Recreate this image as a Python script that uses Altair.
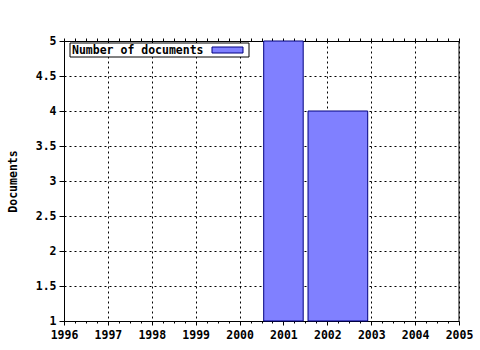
import altair as alt
import pandas as pd

years = [2001, 2002]
docs = [5, 4]
bar_start = [2000.55, 2001.56]
bar_end = [2001.45, 2002.92]
x_ticks = list(range(1996, 2006))
y_ticks = [1, 1.5, 2, 2.5, 3, 3.5, 4, 4.5, 5]
minor_ticks = [1996 + i * 0.25 for i in range(37)]

FONT = "DejaVu Sans Mono"
W, H = 395, 280

bars_df = pd.DataFrame({"year": years, "docs": docs, "x0": bar_start, "x1": bar_end, "base": [1] * len(years)})
minor_df = pd.DataFrame({"t": minor_ticks})

xs = alt.Scale(domain=[1996, 2005], nice=False, zero=False)
ys = alt.Scale(domain=[1, 5], nice=False, zero=False)

bars = alt.Chart(bars_df).mark_rect(fill="#8080ff", stroke="#000080", strokeWidth=1).encode(
    x=alt.X("x0:Q", scale=xs, axis=alt.Axis(
        values=x_ticks, format="d", title=None, grid=True, gridDash=[2, 3], gridColor="black",
        gridOpacity=1, domainColor="black", tickColor="black", tickSize=4,
        labelFont=FONT, labelFontWeight="bold", labelFontSize=11.5, labelColor="black", labelPadding=4,
        labelFlush=False)),
    x2="x1:Q",
    y=alt.Y("base:Q", scale=ys, axis=alt.Axis(
        values=y_ticks, format="~g", title="Documents", grid=True, gridDash=[2, 3], gridColor="black",
        gridOpacity=1, domainColor="black", tickColor="black", tickSize=5,
        labelFont=FONT, labelFontWeight="bold", labelFontSize=11.5, labelColor="black", labelPadding=3,
        titleFont=FONT, titleFontWeight="bold", titleFontSize=11.5, titleColor="black", titlePadding=17)),
    y2="docs:Q",
)

minor_bottom = alt.Chart(minor_df).mark_point(opacity=0).encode(
    x=alt.X("t:Q", scale=xs, axis=alt.Axis(values=minor_ticks, labels=False, grid=False, domain=False,
                                           tickColor="black", tickSize=2, title=None, orient="bottom")),
)
minor_top = alt.Chart(minor_df).mark_point(opacity=0).encode(
    x=alt.X("t:Q", scale=xs, axis=alt.Axis(values=minor_ticks, labels=False, grid=False, domainColor="black",
                                           tickColor="black", tickSize=3, title=None, orient="top")),
)

right_line = alt.Chart(minor_df.head(1)).mark_rule(color="black").encode(
    x=alt.value(W), y=alt.value(0), y2=alt.value(H))

legend_box = alt.Chart(minor_df.head(1)).mark_rect(fill="white", stroke="black", strokeWidth=1).encode(
    x=alt.value(6), x2=alt.value(185), y=alt.value(2), y2=alt.value(16))
legend_swatch = alt.Chart(minor_df.head(1)).mark_rect(fill="#8080ff", stroke="#000080", strokeWidth=1).encode(
    x=alt.value(148), x2=alt.value(179), y=alt.value(6), y2=alt.value(12))
legend_text = alt.Chart(pd.DataFrame({"label": ["Number of documents"]})).mark_text(
    font=FONT, fontWeight="bold", fontSize=11.5, align="left", baseline="middle", color="black").encode(
    x=alt.value(8), y=alt.value(9.5), text="label:N")

chart = alt.layer(bars, minor_bottom, minor_top, right_line, legend_box, legend_swatch, legend_text).resolve_axis(
    x="independent"
).properties(
    width=W, height=H, padding={"left": 64, "top": 41, "right": 21, "bottom": 29},
    autosize=alt.AutoSizeParams(type="none"), background="white"
).configure_view(stroke=None)

chart.save("out.html", embed_options={"renderer": "svg", "actions": False})
